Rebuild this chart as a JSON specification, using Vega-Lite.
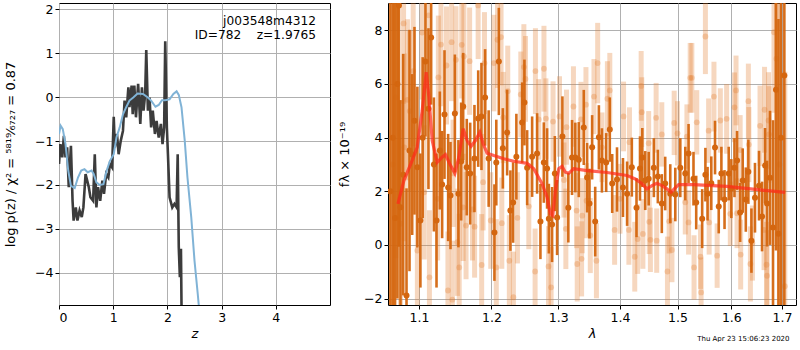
{
  "$schema": "https://vega.github.io/schema/vega-lite/v6.json",
  "background": "white",
  "padding": {"left": 4, "top": 2, "right": 1, "bottom": 0},
  "config": {
    "font": "DejaVu Sans",
    "view": {"stroke": "black", "strokeWidth": 1},
    "axis": {"grid": true, "gridColor": "#b0b0b0", "gridWidth": 1, "domain": false, "tickColor": "black", "tickSize": 4, "labelFontSize": 12.5, "labelColor": "black", "titleFontSize": 13, "titleFontWeight": "normal", "titleColor": "black", "labelPadding": 2, "labelFont": "DejaVu Sans", "titleFont": "DejaVu Sans"}
  },
  "title": {"text": "Thu Apr 23 15:06:23 2020", "orient": "bottom", "anchor": "end", "fontSize": 7, "fontWeight": "normal", "color": "black", "offset": -6, "dx": -7},
  "bounds": "flush",
  "spacing": 58,
  "datasets": {
    "pz": [
      {"z":0.0,"v":-1.52},{"z":0.025,"v":-1.07},{"z":0.06,"v":-1.37},{"z":0.09,"v":-0.88},{"z":0.12,"v":-1.37},{"z":0.15,"v":-1.14},{"z":0.18,"v":-2.05},{"z":0.22,"v":-1.11},{"z":0.25,"v":-2.36},{"z":0.27,"v":-2.81},{"z":0.31,"v":-2.51},{"z":0.34,"v":-2.81},{"z":0.38,"v":-2.58},{"z":0.42,"v":-2.73},{"z":0.45,"v":-2.51},{"z":0.49,"v":-1.75},{"z":0.52,"v":-1.9},{"z":0.55,"v":-2.05},{"z":0.58,"v":-2.28},{"z":0.63,"v":-2.36},{"z":0.66,"v":-1.3},{"z":0.69,"v":-2.51},{"z":0.72,"v":-2.05},{"z":0.76,"v":-2.36},{"z":0.8,"v":-1.9},{"z":0.83,"v":-2.2},{"z":0.87,"v":-1.75},{"z":0.91,"v":-1.83},{"z":0.94,"v":-1.52},{"z":0.98,"v":-1.6},{"z":1.01,"v":-0.45},{"z":1.03,"v":-1.14},{"z":1.07,"v":-0.84},{"z":1.1,"v":-1.3},{"z":1.14,"v":-0.99},{"z":1.18,"v":-0.77},{"z":1.21,"v":-0.08},{"z":1.24,"v":-0.46},{"z":1.28,"v":0.22},{"z":1.3,"v":-0.23},{"z":1.34,"v":0.26},{"z":1.36,"v":-0.39},{"z":1.39,"v":0.26},{"z":1.42,"v":-0.46},{"z":1.46,"v":0.3},{"z":1.5,"v":-0.61},{"z":1.53,"v":0.22},{"z":1.56,"v":-0.31},{"z":1.59,"v":0.07},{"z":1.61,"v":1.07},{"z":1.64,"v":-0.31},{"z":1.67,"v":-0.01},{"z":1.7,"v":-0.69},{"z":1.73,"v":-0.31},{"z":1.77,"v":-0.84},{"z":1.8,"v":-0.54},{"z":1.84,"v":-0.92},{"z":1.88,"v":-0.61},{"z":1.91,"v":-1.07},{"z":1.94,"v":-0.69},{"z":1.96,"v":1.27},{"z":1.99,"v":-0.69},{"z":2.01,"v":-1.3},{"z":2.04,"v":-2.28},{"z":2.09,"v":-2.51},{"z":2.13,"v":-2.43},{"z":2.17,"v":-2.51},{"z":2.19,"v":-1.3},{"z":2.21,"v":-3.42},{"z":2.23,"v":-4.1},{"z":2.25,"v":-3.45},{"z":2.26,"v":-4.7},{"z":2.28,"v":-6.0}
    ],
    "tpl": [
      {"z":0.0,"v":-0.84},{"z":0.03,"v":-0.65},{"z":0.07,"v":-0.73},{"z":0.12,"v":-1.07},{"z":0.17,"v":-1.67},{"z":0.22,"v":-2.02},{"z":0.29,"v":-2.07},{"z":0.35,"v":-1.83},{"z":0.41,"v":-1.67},{"z":0.47,"v":-1.64},{"z":0.53,"v":-1.71},{"z":0.6,"v":-1.67},{"z":0.64,"v":-1.75},{"z":0.69,"v":-1.94},{"z":0.75,"v":-2.0},{"z":0.82,"v":-1.98},{"z":0.88,"v":-1.67},{"z":0.94,"v":-1.45},{"z":1.01,"v":-1.3},{"z":1.06,"v":-0.92},{"z":1.12,"v":-0.69},{"z":1.18,"v":-0.39},{"z":1.24,"v":-0.23},{"z":1.3,"v":-0.08},{"z":1.37,"v":-0.01},{"z":1.45,"v":0.08},{"z":1.55,"v":0.07},{"z":1.64,"v":-0.01},{"z":1.7,"v":-0.08},{"z":1.78,"v":-0.22},{"z":1.84,"v":-0.18},{"z":1.9,"v":-0.07},{"z":1.96,"v":-0.07},{"z":2.04,"v":-0.05},{"z":2.11,"v":0.07},{"z":2.17,"v":0.13},{"z":2.21,"v":0.05},{"z":2.26,"v":-0.23},{"z":2.32,"v":-0.99},{"z":2.37,"v":-1.83},{"z":2.44,"v":-2.73},{"z":2.5,"v":-3.72},{"z":2.56,"v":-4.48},{"z":2.62,"v":-5.3}
    ],
    "note": [
      {"z":4.74,"v":1.73,"t":"j003548m4312"},
      {"z":4.74,"v":1.41,"t":"ID=782\u00a0\u00a0\u00a0\u00a0z=1.9765"}
    ],
    "dark": [
      {"w":1.063,"f":2.0,"e":12},{"w":1.066,"f":4.0,"e":10},{"w":1.069,"f":1.0,"e":9},{"w":1.072,"f":6.0,"e":8},{"w":1.074,"f":8.93,"e":9},{"w":1.076,"f":1.4,"e":4},{"w":1.0795,"f":2.62,"e":4.5},{"w":1.0838,"f":-1.89,"e":4},{"w":1.0877,"f":3.52,"e":4.5},{"w":1.0912,"f":3.37,"e":3},{"w":1.0942,"f":4.63,"e":3.5},{"w":1.098,"f":2.9,"e":3},{"w":1.102,"f":0.91,"e":2.5},{"w":1.105,"f":4.0,"e":3},{"w":1.1087,"f":6.84,"e":2.8},{"w":1.1127,"f":5.08,"e":3},{"w":1.1163,"f":7.73,"e":2.5},{"w":1.12,"f":3.0,"e":2.5},{"w":1.1235,"f":0.91,"e":2.5},{"w":1.128,"f":3.52,"e":2.2},{"w":1.1311,"f":2.25,"e":2.0},{"w":1.1343,"f":4.86,"e":2.4},{"w":1.1393,"f":2.14,"e":2.0},{"w":1.1425,"f":1.84,"e":2.0},{"w":1.1485,"f":4.9,"e":2.2},{"w":1.1534,"f":1.91,"e":2.0},{"w":1.1572,"f":3.11,"e":2.2},{"w":1.16,"f":5.16,"e":2.0},{"w":1.165,"f":2.9,"e":1.8},{"w":1.1698,"f":2.66,"e":1.9},{"w":1.1758,"f":3.22,"e":2.0},{"w":1.1811,"f":4.71,"e":1.8},{"w":1.1857,"f":4.79,"e":2.0},{"w":1.1909,"f":5.5,"e":1.8},{"w":1.196,"f":3.22,"e":1.8},{"w":1.2043,"f":0.46,"e":1.8},{"w":1.207,"f":3.07,"e":1.6},{"w":1.2107,"f":6.84,"e":2.0},{"w":1.2165,"f":3.6,"e":1.5},{"w":1.2228,"f":4.19,"e":1.6},{"w":1.2276,"f":1.28,"e":1.5},{"w":1.2316,"f":1.58,"e":1.5},{"w":1.2364,"f":3.29,"e":1.6},{"w":1.245,"f":4.56,"e":1.5},{"w":1.2484,"f":5.31,"e":1.6},{"w":1.2525,"f":2.88,"e":1.4},{"w":1.26,"f":3.29,"e":1.5},{"w":1.2675,"f":3.41,"e":1.5},{"w":1.2726,"f":0.87,"e":1.4},{"w":1.2778,"f":3.07,"e":1.5},{"w":1.2828,"f":2.85,"e":1.5},{"w":1.2855,"f":0.98,"e":1.3},{"w":1.2905,"f":0.76,"e":1.4},{"w":1.2948,"f":2.66,"e":1.4},{"w":1.2983,"f":1.02,"e":1.4},{"w":1.3066,"f":4.04,"e":1.5},{"w":1.3159,"f":1.39,"e":1.3},{"w":1.3218,"f":3.26,"e":1.4},{"w":1.327,"f":3.26,"e":1.3},{"w":1.3325,"f":3.18,"e":1.4},{"w":1.3405,"f":4.38,"e":1.4},{"w":1.3459,"f":2.51,"e":1.3},{"w":1.3497,"f":1.54,"e":1.3},{"w":1.354,"f":3.64,"e":1.2},{"w":1.359,"f":0.87,"e":1.3},{"w":1.365,"f":4.01,"e":1.2},{"w":1.37,"f":3.15,"e":1.2},{"w":1.377,"f":3.07,"e":1.1},{"w":1.383,"f":4.3,"e":1.2},{"w":1.387,"f":2.29,"e":1.1},{"w":1.395,"f":2.44,"e":1.2},{"w":1.405,"f":2.14,"e":1.1},{"w":1.412,"f":1.91,"e":1.2},{"w":1.42,"f":2.9,"e":1.1},{"w":1.428,"f":1.39,"e":1.1},{"w":1.434,"f":2.85,"e":1.2},{"w":1.438,"f":3.26,"e":1.1},{"w":1.443,"f":2.4,"e":1.1},{"w":1.449,"f":2.47,"e":1.0},{"w":1.458,"f":2.88,"e":1.1},{"w":1.465,"f":2.55,"e":1.0},{"w":1.472,"f":1.54,"e":1.1},{"w":1.478,"f":2.29,"e":1.0},{"w":1.487,"f":1.91,"e":1.1},{"w":1.496,"f":1.88,"e":1.0},{"w":1.505,"f":2.88,"e":1.1},{"w":1.514,"f":2.66,"e":1.0},{"w":1.52,"f":3.41,"e":1.1},{"w":1.529,"f":2.47,"e":1.0},{"w":1.534,"f":1.58,"e":1.0},{"w":1.545,"f":0.98,"e":1.1},{"w":1.551,"f":2.62,"e":1.0},{"w":1.555,"f":1.91,"e":1.0},{"w":1.562,"f":2.3,"e":1.0},{"w":1.569,"f":3.63,"e":1.0},{"w":1.576,"f":1.43,"e":1.0},{"w":1.581,"f":2.66,"e":1.0},{"w":1.587,"f":1.69,"e":1.1},{"w":1.595,"f":2.66,"e":1.0},{"w":1.6,"f":2.1,"e":1.1},{"w":1.606,"f":2.88,"e":1.1},{"w":1.611,"f":3.15,"e":1.1},{"w":1.617,"f":1.21,"e":1.1},{"w":1.622,"f":2.4,"e":1.2},{"w":1.628,"f":1.69,"e":1.2},{"w":1.633,"f":2.73,"e":1.2},{"w":1.639,"f":0.16,"e":1.2},{"w":1.646,"f":1.76,"e":1.3},{"w":1.654,"f":2.21,"e":1.3},{"w":1.66,"f":1.06,"e":1.3},{"w":1.666,"f":2.96,"e":1.4},{"w":1.67,"f":1.54,"e":1.6},{"w":1.676,"f":2.5,"e":2.5},{"w":1.682,"f":0.65,"e":4},{"w":1.688,"f":5.79,"e":6},{"w":1.693,"f":0.42,"e":8},{"w":1.698,"f":4.0,"e":10},{"w":1.705,"f":6.32,"e":10}
    ],
    "light": [
      {"w":1.066,"f":3.0,"e":8},{"w":1.07,"f":5.5,"e":6},{"w":1.076,"f":0.79,"e":3.5},{"w":1.08,"f":8.26,"e":3},{"w":1.081,"f":3.64,"e":3.5},{"w":1.085,"f":5.41,"e":3},{"w":1.088,"f":4.99,"e":3},{"w":1.0925,"f":6.48,"e":2.8},{"w":1.098,"f":-0.21,"e":3},{"w":1.1043,"f":7.92,"e":2.5},{"w":1.107,"f":1.96,"e":2.5},{"w":1.113,"f":8.56,"e":2.5},{"w":1.114,"f":-1.21,"e":2.5},{"w":1.125,"f":1.72,"e":2.3},{"w":1.126,"f":6.25,"e":2.3},{"w":1.1295,"f":7.47,"e":2.3},{"w":1.137,"f":6.69,"e":2.2},{"w":1.139,"f":-1.7,"e":2.2},{"w":1.144,"f":7.56,"e":2.2},{"w":1.145,"f":-2.04,"e":2.2},{"w":1.146,"f":2.67,"e":2.0},{"w":1.15,"f":6.9,"e":2.0},{"w":1.152,"f":0.1,"e":2.0},{"w":1.1545,"f":-0.84,"e":2.0},{"w":1.158,"f":7.46,"e":2.0},{"w":1.16,"f":1.4,"e":2.0},{"w":1.161,"f":7.03,"e":2.0},{"w":1.164,"f":0.72,"e":2.0},{"w":1.169,"f":6.85,"e":2.0},{"w":1.173,"f":1.32,"e":1.9},{"w":1.176,"f":0.68,"e":1.9},{"w":1.181,"f":8.93,"e":2.0},{"w":1.186,"f":-0.75,"e":1.9},{"w":1.188,"f":2.34,"e":1.8},{"w":1.19,"f":6.78,"e":1.9},{"w":1.199,"f":0.91,"e":1.8},{"w":1.2035,"f":6.78,"e":1.8},{"w":1.207,"f":-0.84,"e":1.8},{"w":1.2087,"f":7.65,"e":1.8},{"w":1.2139,"f":7.75,"e":1.8},{"w":1.215,"f":0.81,"e":1.7},{"w":1.217,"f":4.75,"e":1.7},{"w":1.2237,"f":5.73,"e":1.7},{"w":1.226,"f":-0.59,"e":1.7},{"w":1.232,"f":-1.95,"e":1.7},{"w":1.238,"f":1.01,"e":1.7},{"w":1.243,"f":5.61,"e":1.6},{"w":1.2476,"f":6.63,"e":1.6},{"w":1.25,"f":6.19,"e":1.6},{"w":1.255,"f":1.44,"e":1.6},{"w":1.2645,"f":-0.99,"e":1.6},{"w":1.265,"f":6.48,"e":1.6},{"w":1.27,"f":4.68,"e":1.5},{"w":1.278,"f":6.57,"e":1.6},{"w":1.281,"f":4.71,"e":1.5},{"w":1.285,"f":-0.8,"e":1.5},{"w":1.289,"f":-1.58,"e":1.5},{"w":1.292,"f":4.6,"e":1.5},{"w":1.302,"f":4.79,"e":1.5},{"w":1.309,"f":2.42,"e":1.4},{"w":1.312,"f":0.6,"e":1.5},{"w":1.313,"f":4.39,"e":1.4},{"w":1.324,"f":5.16,"e":1.5},{"w":1.329,"f":1.28,"e":1.4},{"w":1.33,"f":-0.71,"e":1.4},{"w":1.336,"f":4.68,"e":1.4},{"w":1.337,"f":-0.52,"e":1.4},{"w":1.338,"f":1.09,"e":1.4},{"w":1.344,"f":5.23,"e":1.4},{"w":1.345,"f":1.65,"e":1.4},{"w":1.351,"f":0.35,"e":1.4},{"w":1.357,"f":5.53,"e":1.4},{"w":1.361,"f":-0.59,"e":1.4},{"w":1.363,"f":6.78,"e":1.5},{"w":1.37,"f":3.64,"e":1.3},{"w":1.379,"f":5.45,"e":1.4},{"w":1.383,"f":5.76,"e":1.4},{"w":1.391,"f":0.56,"e":1.3},{"w":1.4,"f":1.72,"e":1.3},{"w":1.406,"f":4.79,"e":1.3},{"w":1.415,"f":0.56,"e":1.3},{"w":1.416,"f":3.83,"e":1.3},{"w":1.425,"f":-0.44,"e":1.3},{"w":1.43,"f":0.22,"e":1.3},{"w":1.436,"f":5.93,"e":1.3},{"w":1.437,"f":4.95,"e":1.3},{"w":1.439,"f":0.41,"e":1.3},{"w":1.449,"f":3.79,"e":1.2},{"w":1.45,"f":0.86,"e":1.2},{"w":1.452,"f":0.19,"e":1.2},{"w":1.462,"f":4.74,"e":1.3},{"w":1.463,"f":0.16,"e":1.2},{"w":1.472,"f":4.12,"e":1.2},{"w":1.482,"f":-0.99,"e":1.3},{"w":1.485,"f":0.88,"e":1.2},{"w":1.49,"f":-0.19,"e":1.2},{"w":1.494,"f":4.55,"e":1.2},{"w":1.5,"f":4.16,"e":1.2},{"w":1.514,"f":1.59,"e":1.2},{"w":1.517,"f":4.04,"e":1.2},{"w":1.52,"f":0.84,"e":1.2},{"w":1.523,"f":6.23,"e":1.3},{"w":1.526,"f":6.23,"e":1.3},{"w":1.53,"f":-0.84,"e":1.2},{"w":1.535,"f":4.57,"e":1.2},{"w":1.542,"f":-0.44,"e":1.2},{"w":1.543,"f":-1.77,"e":1.3},{"w":1.551,"f":7.77,"e":1.4},{"w":1.557,"f":4.26,"e":1.2},{"w":1.558,"f":0.84,"e":1.2},{"w":1.567,"f":5.53,"e":1.3},{"w":1.573,"f":-0.4,"e":1.2},{"w":1.579,"f":4.64,"e":1.2},{"w":1.591,"f":4.7,"e":1.3},{"w":1.598,"f":1.16,"e":1.2},{"w":1.606,"f":5.13,"e":1.3},{"w":1.609,"f":5.76,"e":1.3},{"w":1.611,"f":1.18,"e":1.3},{"w":1.617,"f":3.54,"e":1.3},{"w":1.618,"f":-0.36,"e":1.3},{"w":1.633,"f":5.36,"e":1.4},{"w":1.634,"f":3.74,"e":1.4},{"w":1.637,"f":-0.71,"e":1.4},{"w":1.641,"f":0.07,"e":1.4},{"w":1.656,"f":4.44,"e":1.5},{"w":1.664,"f":0.56,"e":1.5},{"w":1.665,"f":5.04,"e":1.6},{"w":1.669,"f":-0.74,"e":1.6},{"w":1.67,"f":-1.15,"e":1.7},{"w":1.673,"f":4.64,"e":1.8},{"w":1.674,"f":4.12,"e":1.8},{"w":1.684,"f":7.93,"e":3},{"w":1.689,"f":6.94,"e":5},{"w":1.695,"f":3.0,"e":8},{"w":1.706,"f":-1.54,"e":8}
    ],
    "model": [
      {"w":1.0727,"f":1.53},{"w":1.0804,"f":2.4},{"w":1.0912,"f":3.15},{"w":1.0978,"f":3.64},{"w":1.1044,"f":5.01},{"w":1.1097,"f":6.44},{"w":1.1133,"f":5.51},{"w":1.1177,"f":3.89},{"w":1.1244,"f":3.08},{"w":1.1311,"f":3.27},{"w":1.1356,"f":3.37},{"w":1.1416,"f":3.02},{"w":1.1485,"f":2.67},{"w":1.154,"f":3.27},{"w":1.16,"f":4.33},{"w":1.1655,"f":3.89},{"w":1.1711,"f":3.68},{"w":1.1772,"f":3.89},{"w":1.1834,"f":4.2},{"w":1.1881,"f":3.77},{"w":1.1938,"f":3.42},{"w":1.2034,"f":3.33},{"w":1.2179,"f":3.21},{"w":1.2326,"f":3.12},{"w":1.2524,"f":3.04},{"w":1.2625,"f":2.84},{"w":1.2751,"f":2.28},{"w":1.2828,"f":1.78},{"w":1.2879,"f":1.16},{"w":1.2916,"f":1.09},{"w":1.2956,"f":2.03},{"w":1.3009,"f":2.84},{"w":1.306,"f":2.93},{"w":1.3112,"f":2.71},{"w":1.3165,"f":2.67},{"w":1.3244,"f":2.84},{"w":1.3458,"f":2.77},{"w":1.3784,"f":2.7},{"w":1.4118,"f":2.59},{"w":1.4259,"f":2.46},{"w":1.4374,"f":2.28},{"w":1.446,"f":2.09},{"w":1.4547,"f":2.21},{"w":1.4634,"f":2.3},{"w":1.4722,"f":2.21},{"w":1.4811,"f":2.09},{"w":1.4882,"f":1.96},{"w":1.4941,"f":2.09},{"w":1.502,"f":2.25},{"w":1.5292,"f":2.25},{"w":1.5915,"f":2.18},{"w":1.6564,"f":2.05},{"w":1.7067,"f":1.96}
    ]
  },
  "hconcat": [
    {
      "width": 271,
      "height": 302,
      "layer": [
        {
          "data": {"name": "pz"},
          "mark": {"type": "line", "color": "#3c3c3c", "strokeWidth": 2.6, "clip": true},
          "encoding": {
            "x": {"field": "z", "type": "quantitative", "scale": {"domain": [0, 5.0], "nice": false, "zero": false}, "axis": {"values": [0, 1, 2, 3, 4], "title": "z", "titleFontStyle": "italic"}},
            "y": {"field": "v", "type": "quantitative", "scale": {"domain": [-4.73, 2.14], "nice": false, "zero": false}, "axis": {"values": [-4, -3, -2, -1, 0, 1, 2], "title": "log p(z) / χ² = ⁵⁸¹⁹⁄₆₇₂₇ = 0.87", "titlePadding": 17}}
          }
        },
        {
          "data": {"name": "tpl"},
          "mark": {"type": "line", "color": "#80b3d6", "strokeWidth": 2, "clip": true},
          "encoding": {
            "x": {"field": "z", "type": "quantitative", "scale": {"domain": [0, 5.0], "nice": false, "zero": false}, "title": "z"},
            "y": {"field": "v", "type": "quantitative", "scale": {"domain": [-4.73, 2.14], "nice": false, "zero": false}, "title": "log p(z) / χ² = ⁵⁸¹⁹⁄₆₇₂₇ = 0.87"}
          }
        },
        {
          "data": {"name": "note"},
          "mark": {"type": "text", "align": "right", "baseline": "middle", "fontSize": 12.2, "color": "black", "font": "DejaVu Sans"},
          "encoding": {
            "x": {"field": "z", "type": "quantitative", "scale": {"domain": [0, 5.0], "nice": false, "zero": false}, "title": "z"},
            "y": {"field": "v", "type": "quantitative", "scale": {"domain": [-4.73, 2.14], "nice": false, "zero": false}, "title": "log p(z) / χ² = ⁵⁸¹⁹⁄₆₇₂₇ = 0.87"},
            "text": {"field": "t"}
          }
        }
      ]
    },
    {
      "width": 408,
      "height": 302,
      "layer": [
        {
          "data": {"name": "light"},
          "mark": {"type": "errorbar", "color": "#e07b2a", "opacity": 0.3, "thickness": 5, "clip": true},
          "encoding": {
            "x": {"field": "w", "type": "quantitative", "title": "λ", "scale": {"type": "log", "domain": [1.06, 1.729], "nice": false}, "axis": {"values": [1.1, 1.2, 1.3, 1.4, 1.5, 1.6, 1.7], "format": ".1f", "title": "λ", "titleFontStyle": "italic"}},
            "y": {"field": "f", "type": "quantitative", "title": "fλ × 10⁻¹⁹", "scale": {"domain": [-2.24, 9.02], "nice": false, "zero": false}, "axis": {"values": [-2, 0, 2, 4, 6, 8], "title": "fλ × 10⁻¹⁹", "titlePadding": 12}},
            "yError": {"field": "e"}
          }
        },
        {
          "data": {"name": "light"},
          "mark": {"type": "circle", "color": "#e07b2a", "opacity": 0.3, "size": 34, "clip": true},
          "encoding": {
            "x": {"field": "w", "type": "quantitative", "title": "λ", "scale": {"type": "log", "domain": [1.06, 1.729], "nice": false}},
            "y": {"field": "f", "type": "quantitative", "title": "fλ × 10⁻¹⁹", "scale": {"domain": [-2.24, 9.02], "nice": false, "zero": false}}
          }
        },
        {
          "data": {"name": "dark"},
          "mark": {"type": "errorbar", "color": "#d4660f", "opacity": 0.95, "thickness": 2.6, "clip": true},
          "encoding": {
            "x": {"field": "w", "type": "quantitative", "title": "λ", "scale": {"type": "log", "domain": [1.06, 1.729], "nice": false}},
            "y": {"field": "f", "type": "quantitative", "title": "fλ × 10⁻¹⁹", "scale": {"domain": [-2.24, 9.02], "nice": false, "zero": false}},
            "yError": {"field": "e"}
          }
        },
        {
          "data": {"name": "dark"},
          "mark": {"type": "circle", "color": "#d4660f", "opacity": 1, "size": 36, "clip": true},
          "encoding": {
            "x": {"field": "w", "type": "quantitative", "title": "λ", "scale": {"type": "log", "domain": [1.06, 1.729], "nice": false}},
            "y": {"field": "f", "type": "quantitative", "title": "fλ × 10⁻¹⁹", "scale": {"domain": [-2.24, 9.02], "nice": false, "zero": false}}
          }
        },
        {
          "data": {"name": "model"},
          "mark": {"type": "line", "color": "#ff2a1a", "opacity": 0.72, "strokeWidth": 3.2, "clip": true},
          "encoding": {
            "x": {"field": "w", "type": "quantitative", "title": "λ", "scale": {"type": "log", "domain": [1.06, 1.729], "nice": false}},
            "y": {"field": "f", "type": "quantitative", "title": "fλ × 10⁻¹⁹", "scale": {"domain": [-2.24, 9.02], "nice": false, "zero": false}}
          }
        },
        {
          "mark": {"type": "rule", "color": "black", "strokeWidth": 2, "strokeDash": [2, 3]},
          "encoding": {
            "y": {"datum": 0, "title": "fλ × 10⁻¹⁹"}
          }
        }
      ]
    }
  ]
}
